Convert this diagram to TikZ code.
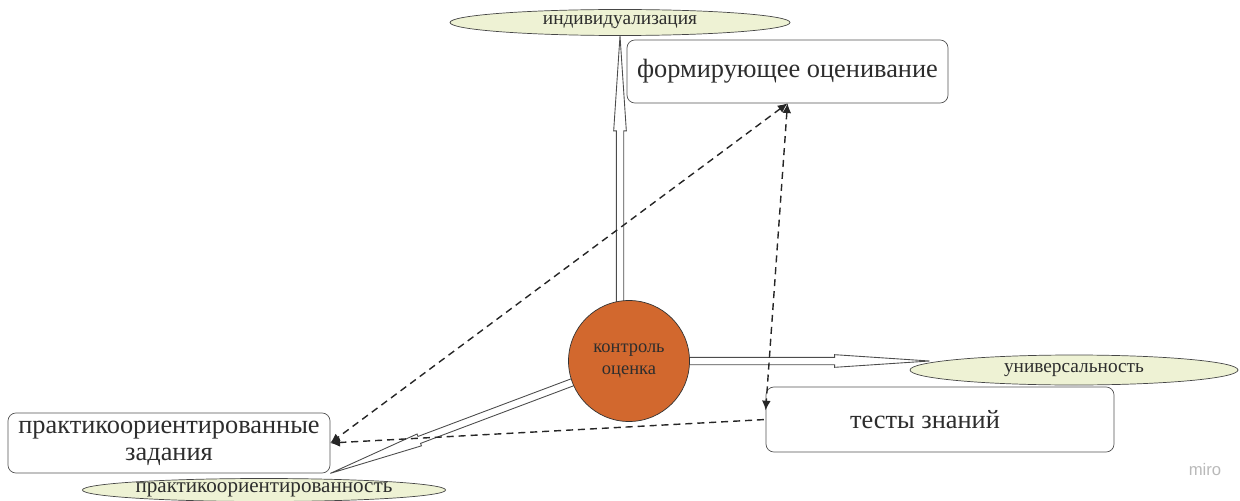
\documentclass[tikz,border=0pt]{standalone}
\usepackage{fontspec}
\setmainfont{Liberation Serif}
\newfontfamily\mirofont{Liberation Sans}
\usetikzlibrary{positioning, arrows.meta, calc, shapes.geometric, backgrounds}

\definecolor{tagfill}{RGB}{238,242,212}
\definecolor{hubfill}{RGB}{210,104,46}
\definecolor{inkgray}{RGB}{45,45,45}

% hollow arrow: start, tip
\newcommand{\holarr}[2]{%
  \coordinate (hb) at ($(#2)!1.9cm!(#1)$);
  \draw[holline] ($(#1)!2.1pt!90:(#2)$) -- ($(hb)!2.1pt!90:(#2)$) -- ($(hb)!3.6pt!90:(#2)$)
    -- (#2) -- ($(hb)!3.6pt!-90:(#2)$) -- ($(hb)!2.1pt!-90:(#2)$) -- ($(#1)!2.1pt!-90:(#2)$);
}

\begin{document}
\begin{tikzpicture}[
  text=inkgray,
  tagell/.style={ellipse, draw=gray!55!black, fill=tagfill, inner sep=0pt,
    font=\fontsize{11}{12}\selectfont},
  topicbox/.style={draw=gray!65!black, fill=white, rounded corners=4.5pt, align=center,
    inner sep=2pt, font=\fontsize{15}{17}\selectfont},
  holline/.style={draw=gray!60!black, fill=white, line width=0.5pt, line join=miter},
  link/.style={{Latex[length=5.5pt,width=5pt]}-{Latex[length=5.5pt,width=5pt]}, draw=black!85,
    line width=0.8pt, dash pattern=on 4pt off 2.8pt}
]
\useasboundingbox (0,0) rectangle (24.8,-10.02);

% hub
\node[circle, draw=gray!40!black, fill=hubfill, minimum size=2.42cm, align=center,
  font=\fontsize{10.5}{13}\selectfont] (hub) at (12.58,-7.22) {контроль\\оценка};

% --- tags ---
\node[tagell, minimum width=6.8cm, minimum height=0.52cm] (indiv) at (12.4,-0.45) {индивидуализация};
\node[tagell, minimum width=6.56cm, minimum height=0.6cm] (univ) at (21.48,-7.4) {универсальность};
\node[tagell, minimum width=7.04cm, minimum height=0.46cm, font=\fontsize{12}{13}\selectfont]
  (pract) at (5.28,-9.8) {практикоориентированность};

% --- boxes ---
\node[topicbox, minimum width=6.42cm, minimum height=1.26cm] (form) at (15.75,-1.43) {формирующее оценивание};
\node[topicbox, minimum width=6.96cm, minimum height=1.3cm] (tests) at (18.8,-8.39) {тесты знаний\hspace*{0.6cm}};
\node[topicbox, minimum width=6.44cm, minimum height=1.2cm, inner ysep=1pt,
  font=\fontsize{15}{15.5}\selectfont] (task) at (3.38,-8.86) {практикоориентированные\\задания};

% hollow arrows from the hub
\begin{scope}[on background layer]
  \coordinate (vstart) at (indiv.south |- hub.center);
  \coordinate (univtip) at ($(hub.center -| univ.west)+(0.4,0)$);
  \holarr{vstart}{indiv.south}
  \holarr{hub.center}{univtip}
  \holarr{hub.center}{task.south east}
\end{scope}

% dashed links
\draw[link] (form.south) -- (task.east);
\draw[link] (form.south) -- (tests.177);
\draw[link, {Latex[length=5.5pt,width=5pt]}-] (task.east) -- (tests.west);

\node[text=gray!55, font=\mirofont\fontsize{9.5}{10}\selectfont] (miro) at (24.1,-9.4) {miro};

\end{tikzpicture}
\end{document}
